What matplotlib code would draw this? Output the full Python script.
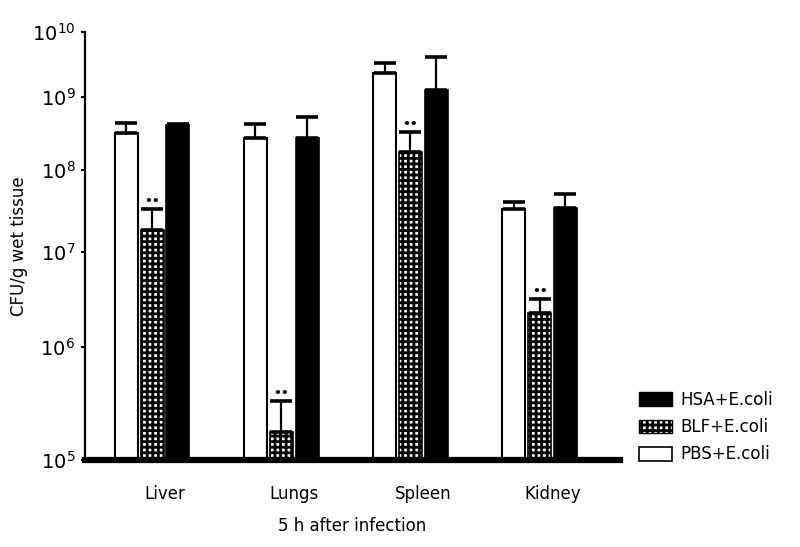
"""
CFU per gram of wet tissue, 5 h after E. coli infection
"""
import numpy as np
import matplotlib
matplotlib.use('Agg')
import matplotlib.pyplot as plt
from matplotlib.patches import Patch
from matplotlib.ticker import FixedLocator, NullLocator

organs = ['Liver', 'Lungs', 'Spleen', 'Kidney']
series = ['PBS+E.coli', 'BLF+E.coli', 'HSA+E.coli']

pbs_mean = [3.2e8, 2.75e8, 2.3e9, 3.3e7]
pbs_err = [1.2e8, 1.55e8, 1.0e9, 0.8e7]
blf_mean = [1.85e7, 1.77e5, 1.77e8, 2.3e6]
blf_err = [1.45e7, 1.53e5, 1.53e8, 0.9e6]
hsa_mean = [4.2e8, 2.75e8, 1.3e9, 3.4e7]
hsa_err = [0.1e8, 2.55e8, 2.8e9, 1.7e7]

# the printed axis is not a clean log axis: decades get taller towards the bottom
decades = [5, 6, 7, 8, 9, 10]
decade_pos = [0, 113, 208, 290, 363, 428]

y_ticks = [10.0 ** d for d in decades]
y_tick_labels = [r'$\mathregular{10^{%d}}$' % d for d in decades]


def forward(v):
    v = np.clip(np.asarray(v, dtype=float), 1e-30, None)
    return np.interp(np.log10(v), decades, decade_pos,
                     left=decade_pos[0], right=decade_pos[-1])


def inverse(p):
    return 10.0 ** np.interp(p, decade_pos, decades)


plt.rcParams['font.family'] = ['DejaVu Sans']
plt.rcParams['hatch.linewidth'] = 2.0
plt.rcParams['hatch.color'] = 'black'

fig = plt.figure(figsize=(8.0, 5.47), dpi=100)
ax = fig.add_axes([85 / 800, 1 - 460 / 547, 535 / 800, 428 / 547])
ax.set_yscale('function', functions=(forward, inverse))

x = np.arange(len(organs))
width = 0.178
step = 0.2
base = 1e5

err_kw = dict(ecolor='black', elinewidth=1.6, capthick=2.6, capsize=8)

ax.bar(x - step, np.array(pbs_mean) - base, width, bottom=base,
       facecolor='white', edgecolor='black', linewidth=1.5, zorder=2)
ax.bar(x, np.array(blf_mean) - base, width, bottom=base,
       facecolor='white', edgecolor='black', linewidth=1.2, hatch='+++', zorder=2)
ax.bar(x + step, np.array(hsa_mean) - base, width, bottom=base,
       facecolor='black', edgecolor='black', linewidth=1.2, zorder=2)

for off, m, e in [(-step, pbs_mean, pbs_err), (0, blf_mean, blf_err), (step, hsa_mean, hsa_err)]:
    ax.errorbar(x + off, m, yerr=[np.zeros(len(m)), e], fmt='none', zorder=3, **err_kw)

# significance marks above the BLF bars
for xi, m, e in zip(x, blf_mean, blf_err):
    ax.annotate('\u2022\u2022', (xi, m + e), xytext=(0, 1), textcoords='offset points',
                ha='center', va='bottom', fontsize=9, fontweight='bold')

ax.set_xlim(-0.519, 3.622)
ax.set_ylim(1e5, 1e10)
ax.yaxis.set_major_locator(FixedLocator(y_ticks))
ax.yaxis.set_minor_locator(NullLocator())
ax.set_yticklabels(y_tick_labels, fontsize=14)
ax.tick_params(axis='y', length=3, width=1.5, pad=4)

ax.set_xticks(x + 0.1)
ax.set_xticklabels(organs, fontsize=12)
ax.tick_params(axis='x', length=0, pad=18)
ax.set_xlabel('5 h after infection', fontsize=12, labelpad=10)
ax.set_ylabel('CFU/g wet tissue', fontsize=12, labelpad=3)

ax.spines['top'].set_visible(False)
ax.spines['right'].set_visible(False)
ax.spines['left'].set_linewidth(1.6)
ax.spines['bottom'].set_linewidth(4.5)
ax.spines['bottom'].set_zorder(5)

handles = [Patch(facecolor='black', edgecolor='black'),
           Patch(facecolor='white', edgecolor='black', hatch='+++'),
           Patch(facecolor='white', edgecolor='black', linewidth=1.2)]
fig.legend(handles, ['HSA+E.coli', 'BLF+E.coli', 'PBS+E.coli'],
           loc='lower left', bbox_to_anchor=(632 / 800, 1 - 470 / 547),
           frameon=False, fontsize=12, handlelength=2.0, handleheight=0.9,
           handletextpad=0.5, labelspacing=0.55, borderaxespad=0)

fig.savefig('out.png', dpi=100)
